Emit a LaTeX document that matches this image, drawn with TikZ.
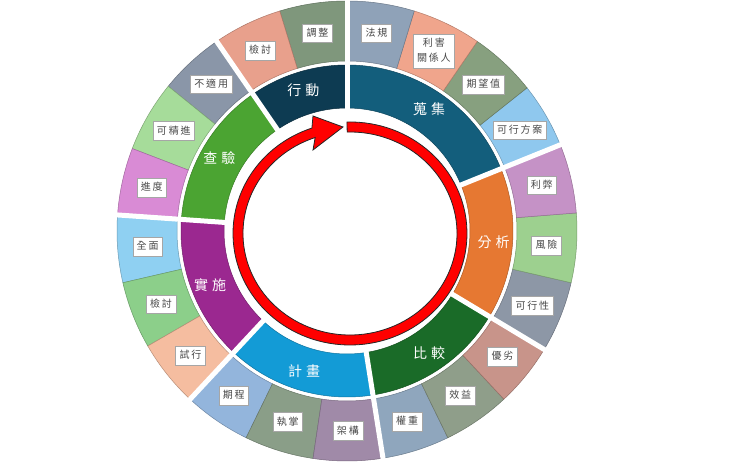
\documentclass[tikz,border=0pt]{standalone}
\usepackage{fontspec}
\newfontfamily\cjk{Noto Sans CJK TC}
\usetikzlibrary{calc}
\definecolor{oA}{HTML}{7F977C}
\definecolor{oB}{HTML}{E8A08C}
\definecolor{oC}{HTML}{8A96A8}
\definecolor{oD}{HTML}{A6DC9A}
\definecolor{oE}{HTML}{D98BD5}
\definecolor{oF}{HTML}{8FD0F2}
\definecolor{oG}{HTML}{8CCF8A}
\definecolor{oH}{HTML}{F5BDA0}
\definecolor{oI}{HTML}{93B5DC}
\definecolor{oJ}{HTML}{8A9E88}
\definecolor{oK}{HTML}{A08AA8}
\definecolor{oL}{HTML}{8FA6BD}
\definecolor{oM}{HTML}{8F9E8A}
\definecolor{oN}{HTML}{C8948A}
\definecolor{oO}{HTML}{8D97A6}
\definecolor{oP}{HTML}{9DD08F}
\definecolor{oQ}{HTML}{C592C6}
\definecolor{oR}{HTML}{8FC8EE}
\definecolor{oS}{HTML}{87A07F}
\definecolor{oT}{HTML}{F0A58C}
\definecolor{oU}{HTML}{8FA2B8}
\definecolor{iA}{HTML}{0D3B52}
\definecolor{iB}{HTML}{4BA432}
\definecolor{iC}{HTML}{9B2890}
\definecolor{iD}{HTML}{139BD6}
\definecolor{iE}{HTML}{1A6B28}
\definecolor{iF}{HTML}{E67832}
\definecolor{iG}{HTML}{135E7C}
\newcommand{\gp}{\kern1.8pt}
\newcommand{\gq}{\kern4pt}
\newcommand{\ringseg}[5]{\filldraw[fill=#5,draw=#5!75!black,line width=0.5pt] ($(C)+(#1:#4pt)$) arc[start angle=#1,end angle=#2,radius=#4pt] -- ($(C)+(#2:#3pt)$) arc[start angle=#2,end angle=#1,radius=#3pt] -- cycle;}
\begin{document}
\begin{tikzpicture}[x=1pt,y=1pt,
  obox/.style={fill=white, draw=gray!70, line width=0.4pt, font=\cjk\fontsize{10}{15}\selectfont, text=black!72, inner xsep=4pt, inner ysep=4.5pt, text height=8pt, text depth=1.8pt, align=center},
  ilab/.style={font=\cjk\fontsize{14}{16}\selectfont, text=white, inner sep=0pt},
  redarrow/.style={fill=red, draw=black!85, line width=0.8pt, line join=miter},
  gap/.style={white, line width=5pt}]
\useasboundingbox (0,0) rectangle (740,462);
\fill[white] (0,0) rectangle (740,462);
\coordinate (C) at (347,231);
\coordinate (R) at (350,228.5);
% outer ring
\foreach \a/\b/\col in {
  90/107/oA, 107/124.5/oB, 124.5/141/oC, 141/159/oD, 159/176/oE,
  176/193/oF, 193/210/oG, 210/227/oH, 227/244/oI, 244/261.5/oJ,
  261.5/279/oK, 279/296/oL, 296/313/oM, 313/329/oN, 329/347/oO,
  347/364.5/oP, 364.5/382/oQ, 382/398.5/oR, 398.5/415.5/oS,
  415.5/433/oT, 433/450/oU}{
  \ringseg{\a}{\b}{170}{230}{\col}
}
% inner ring
\foreach \a/\b/\col in {90/124.5/iA,124.5/176/iB,176/227/iC,227/279/iD,279/329/iE,329/382/iF,382/450/iG}{
  \ringseg{\a}{\b}{123}{166}{\col}
}
% white gaps
\foreach \ang in {90,124.5,176,227,279,329,382}{
  \draw[gap] ($(C)+(\ang:115pt)$) -- ($(C)+(\ang:238pt)$);
}
% outer labels
\foreach \a/\b/\txt/\nm in {
  90/107/{調\gp 整}/o1,
  107/124.5/{檢\gp 討}/o2,
  124.5/141/{不\gp 適\gp 用}/o3,
  141/159/{可\gp 精\gp 進}/o4,
  159/176/{進\gp 度}/o5,
  176/193/{全\gp 面}/o6,
  193/210/{檢\gp 討}/o7,
  210/227/{試\gp 行}/o8,
  227/244/{期\gp 程}/o9,
  244/261.5/{執\gp 掌}/o10,
  261.5/279/{架\gp 構}/o11,
  279/296/{權\gp 重}/o12,
  296/313/{效\gp 益}/o13,
  313/329/{優\gp 劣}/o14,
  329/347/{可\gp 行\gp 性}/o15,
  347/364.5/{風\gp 險}/o16,
  364.5/382/{利\gp 弊}/o17,
  382/398.5/{可\gp 行\gp 方\gp 案}/o18,
  398.5/415.5/{期\gp 望\gp 值}/o19,
  433/450/{法\gp 規}/o21}{
  \node[obox] (\nm) at ($(C)+({(\a+\b)/2}:200pt)$) {\txt};
}
\node[obox, text height=23pt] (o20) at ($(C)+(424.25:200pt)$) {利\gp 害\\關\gp 係\gp 人};
% inner labels
\foreach \ang/\txt/\nm in {107.25/{行\gq 動}/i1,150.25/{查\gq 驗}/i2,201.5/{實\gq 施}/i3,253/{計\gq 畫}/i4,304/{比\gq 較}/i5,355.5/{分\gq 析}/i6,416/{蒐\gq 集}/i7}{
  \node[ilab] (\nm) at ($(C)+(\ang:147pt)$) {\txt};
}
% red circular arrow
\draw[redarrow] ($(R)+(91.5:117pt and 111.5pt)$) arc[start angle=91.5, end angle=-251, x radius=117pt, y radius=111.5pt]
  -- (313,346) -- (343,335) -- (313,312)
  -- ($(R)+(-251:107pt and 101.5pt)$) arc[start angle=-251, end angle=91.5, x radius=107pt, y radius=101.5pt] -- cycle;
\end{tikzpicture}
\end{document}
